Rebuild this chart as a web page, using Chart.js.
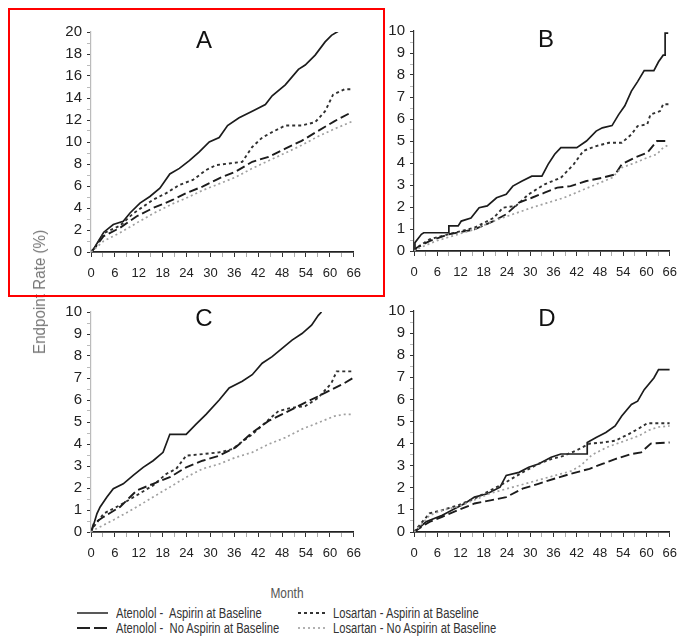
<!DOCTYPE html>
<html lang="en">
<head>
<meta charset="UTF-8">
<title>Endpoint rate by aspirin use</title>
<script src="https://cdn.jsdelivr.net/npm/chart.js"></script>
<style>
  body { margin: 0; background: #fff; }
  #wrap { position: relative; width: 686px; height: 643px; overflow: hidden; font-family: 'Liberation Sans', Arial, sans-serif; }
  canvas { position: absolute; }
  .letter { position: absolute; font-size: 24px; color: #111; transform: translate(-50%, -50%); }
  .ytitle { position: absolute; left: 40px; top: 292px; font-size: 16px; color: #777; white-space: nowrap;
            transform: translate(-50%, -50%) rotate(-90deg) scaleX(0.95); }
  .xtitle { position: absolute; left: 287px; top: 593px; font-size: 14px; color: #555; transform: translate(-50%, -50%) scaleX(0.85); }
  .leg { position: absolute; height: 16px; display: flex; align-items: center; font-size: 14px; color: #333; white-space: pre; }
  .leg svg { margin-right: 7px; }
  .leg span { display: inline-block; transform: scaleX(0.8); transform-origin: left center; }
  #box { position: absolute; left: 8px; top: 8px; width: 377px; height: 289px; box-sizing: border-box; border: 2px solid #f00; }
</style>
</head>
<body>
<div id="wrap">
  <canvas id="chartA" width="330" height="274" style="left:40px; top:18px"></canvas>
  <canvas id="chartB" width="323" height="274" style="left:363px; top:17px"></canvas>
  <canvas id="chartC" width="330" height="274" style="left:40px; top:298px"></canvas>
  <canvas id="chartD" width="323" height="275" style="left:363px; top:297px"></canvas>

  <div class="letter" style="left:204px; top:40px">A</div>
  <div class="letter" style="left:546px; top:39px">B</div>
  <div class="letter" style="left:204px; top:318px">C</div>
  <div class="letter" style="left:547px; top:318px">D</div>

  <div class="ytitle">Endpoint Rate (%)</div>
  <div class="xtitle">Month</div>

  <div class="leg" style="left:77px; top:605px">
    <svg width="32" height="10"><line x1="0" y1="5" x2="31" y2="5" stroke="#222" stroke-width="1.5"/></svg><span>Atenolol -  Aspirin at Baseline</span></div>
  <div class="leg" style="left:77px; top:620px">
    <svg width="32" height="10"><line x1="0" y1="5" x2="31" y2="5" stroke="#222" stroke-width="1.8" stroke-dasharray="13,4"/></svg><span>Atenolol -  No Aspirin at Baseline</span></div>
  <div class="leg" style="left:298px; top:605px">
    <svg width="28" height="10"><line x1="0" y1="5" x2="27" y2="5" stroke="#333" stroke-width="1.8" stroke-dasharray="3,3"/></svg><span>Losartan - Aspirin at Baseline</span></div>
  <div class="leg" style="left:298px; top:620px">
    <svg width="28" height="10"><line x1="0" y1="5" x2="27" y2="5" stroke="#999" stroke-width="1.6" stroke-dasharray="2,3"/></svg><span>Losartan - No Aspirin at Baseline</span></div>

  <div id="box"></div>
</div>
<script>
// Panel A
const aAtenAspMonths = [0, 0.7, 3.2, 5.6, 8.1, 9.8, 12.3, 14.8, 17.3, 19.8, 22.2, 24.7, 27.2, 29.7, 32.2, 34.3, 37.2, 40.5, 43.8, 45.5, 48.8, 52.1, 53.8, 56.3, 58.8, 60.4, 62.5];
const aAtenAsp = [0, 0.3, 1.8, 2.5, 2.8, 3.55, 4.45, 5.05, 5.8, 7.1, 7.6, 8.3, 9.1, 10.0, 10.4, 11.5, 12.2, 12.8, 13.4, 14.2, 15.2, 16.6, 17.0, 17.9, 19.1, 19.7, 20.15];
const aLosAspMonths = [0, 1, 3.2, 7.3, 10.6, 15.6, 18.9, 22.2, 25.6, 28.9, 31.4, 34.7, 38, 40.5, 43, 45.5, 48.8, 52.9, 56.3, 58.8, 60.8, 63.7, 65.8];
const aLosAsp = [0, 0.4, 1.7, 2.4, 3.5, 4.75, 5.35, 6.1, 6.55, 7.45, 7.9, 8.05, 8.2, 9.55, 10.4, 10.9, 11.5, 11.5, 11.8, 12.8, 14.3, 14.8, 14.8];
const aAtenNoMonths = [0, 1, 3.2, 7.3, 11.5, 15.6, 20.6, 23.9, 28, 32.2, 36.3, 40.5, 44.6, 48.8, 52.9, 57, 61.2, 65.4];
const aAtenNo = [0, 0.4, 1.45, 2.2, 3.25, 4.0, 4.75, 5.35, 5.95, 6.7, 7.3, 8.2, 8.65, 9.4, 10.1, 11.0, 11.9, 12.7];
const aLosNoMonths = [0, 1, 3.2, 7.3, 11.5, 15.6, 20.6, 23.9, 28, 32.2, 36.3, 40.5, 44.6, 48.8, 52.9, 57, 61.2, 65.8];
const aLosNo = [0, 0.3, 1.0, 1.75, 2.65, 3.5, 4.4, 4.9, 5.6, 6.2, 6.8, 7.6, 8.3, 9.0, 9.7, 10.5, 11.2, 11.9];

// Panel B
const bAtenAspMonths = [0, 0.25, 1.9, 2.5, 9, 9, 11.4, 12.2, 14.7, 16.8, 18.9, 21.3, 23.8, 25.5, 27.9, 30.4, 33, 34.6, 36.3, 37.9, 42, 44.5, 47, 48.6, 51.1, 52.8, 54.4, 56.1, 57.7, 59.4, 61.9, 63.1, 64.3, 64.8, 64.8, 65.6];
const bAtenAsp = [0, 0.38, 0.76, 0.83, 0.83, 1.14, 1.14, 1.36, 1.5, 1.97, 2.05, 2.42, 2.58, 2.95, 3.18, 3.4, 3.4, 3.94, 4.4, 4.7, 4.7, 5.0, 5.45, 5.6, 5.7, 6.2, 6.6, 7.27, 7.7, 8.2, 8.2, 8.6, 8.9, 8.9, 9.9, 9.9];
const bLosAspMonths = [0, 0.7, 4, 8.9, 15.6, 20.5, 23, 26.3, 29.6, 33.7, 37.9, 41.2, 43.7, 47, 50.3, 53.6, 56.1, 57.7, 60.2, 61, 63.5, 64.3, 66];
const bLosAsp = [0, 0.15, 0.53, 0.76, 1.06, 1.5, 1.97, 2.05, 2.58, 3.03, 3.33, 3.94, 4.55, 4.77, 4.92, 4.92, 5.3, 5.68, 5.76, 6.2, 6.36, 6.67, 6.67];
const bAtenNoMonths = [0, 0.7, 4, 8.9, 15.6, 20.5, 23.8, 27.1, 30.4, 33.7, 37, 40.4, 44.5, 48.6, 51.9, 53.6, 56.9, 60.2, 62.7, 65.6];
const bAtenNo = [0, 0.15, 0.45, 0.76, 0.98, 1.36, 1.67, 2.2, 2.42, 2.65, 2.88, 2.95, 3.18, 3.33, 3.48, 3.94, 4.24, 4.47, 5.0, 5.0];
const bLosNoMonths = [0, 0.7, 5.6, 11.4, 15.6, 20.5, 25.5, 30.4, 34.6, 38.7, 42.9, 47, 51.1, 53.6, 56.9, 60.2, 62.7, 64.3, 66];
const bLosNo = [0, 0.08, 0.45, 0.76, 0.98, 1.36, 1.67, 1.97, 2.2, 2.42, 2.73, 3.03, 3.33, 3.79, 4.0, 4.24, 4.4, 4.7, 4.85];

// Panel C
const cAtenAspMonths = [0, 0.25, 1.5, 2.3, 4, 5.6, 8.1, 10.6, 13.1, 15.6, 18.1, 19.8, 23.9, 26.4, 28.9, 32.2, 34.7, 38, 40.5, 43, 45.5, 48, 50.5, 53, 55.4, 57.1, 57.9];
const cAtenAsp = [0, 0.09, 0.84, 1.14, 1.59, 1.97, 2.19, 2.57, 2.94, 3.24, 3.62, 4.44, 4.44, 4.9, 5.35, 6.0, 6.55, 6.85, 7.15, 7.67, 7.97, 8.35, 8.72, 9.02, 9.4, 9.85, 10.0];
const cLosAspMonths = [0, 0.7, 3.2, 7.3, 11.5, 15.6, 18.9, 21.4, 23.9, 28, 32.2, 35.5, 40.5, 43.8, 47.1, 50.5, 53.8, 57.1, 60.4, 61.7, 65.8];
const cLosAsp = [0, 0.24, 0.84, 1.22, 1.67, 2.12, 2.64, 2.87, 3.47, 3.54, 3.62, 3.77, 4.44, 4.97, 5.5, 5.65, 5.72, 6.1, 6.77, 7.3, 7.3];
const cAtenNoMonths = [0, 0.7, 3.2, 7.3, 11.5, 15.6, 19.8, 23.9, 28, 32.2, 36.3, 40.5, 44.6, 48.8, 52.9, 57.1, 60.4, 63.7, 65.8];
const cAtenNo = [0, 0.39, 0.69, 1.14, 1.89, 2.19, 2.49, 2.94, 3.24, 3.47, 3.84, 4.52, 5.05, 5.42, 5.8, 6.17, 6.47, 6.77, 7.0];
const cLosNoMonths = [0, 0.7, 5.6, 11.5, 15.6, 19.8, 23.9, 28, 32.2, 36.3, 40.5, 44.6, 48.8, 52.9, 57.1, 61.2, 63.7, 65.8];
const cLosNo = [0, 0.09, 0.54, 1.14, 1.59, 2.04, 2.49, 2.87, 3.09, 3.39, 3.62, 3.99, 4.29, 4.67, 4.97, 5.27, 5.35, 5.35];

// Panel D
const dAtenAspMonths = [0, 0.7, 3.1, 7.3, 10.6, 13.1, 15.6, 18.9, 22.2, 23.8, 27.1, 29.6, 32.1, 35.4, 37.9, 44.7, 44.7, 47, 49.5, 51.9, 53.6, 56.1, 57.7, 59.4, 61.9, 63.1, 66];
const dAtenAsp = [0, 0.09, 0.46, 0.76, 1.06, 1.29, 1.58, 1.73, 2.03, 2.56, 2.7, 2.93, 3.08, 3.38, 3.53, 3.53, 4.05, 4.28, 4.5, 4.8, 5.25, 5.77, 5.92, 6.44, 6.97, 7.35, 7.35];
const dLosAspMonths = [0, 0.7, 4, 7.3, 11.4, 15.6, 19.7, 23.8, 28, 32.1, 35.4, 38.7, 42, 45.3, 48.6, 51.9, 55.3, 57.7, 60.2, 66];
const dLosAsp = [0, 0.16, 0.84, 0.99, 1.21, 1.51, 1.88, 2.26, 2.7, 3.08, 3.3, 3.45, 3.7, 4.0, 4.05, 4.13, 4.42, 4.65, 4.92, 4.92];
const dAtenNoMonths = [0, 0.7, 4, 7.3, 11.4, 15.6, 19.7, 23.8, 28, 32.1, 36.2, 40.4, 45.3, 48.6, 51.9, 56.1, 58.6, 61.1, 66];
const dAtenNo = [0, 0.09, 0.46, 0.69, 0.99, 1.29, 1.43, 1.58, 1.96, 2.18, 2.41, 2.63, 2.86, 3.08, 3.3, 3.53, 3.6, 4.0, 4.05];
const dLosNoMonths = [0, 0.7, 4, 7.3, 11.4, 15.6, 19.7, 23.8, 28, 32.1, 36.2, 40.4, 43, 46, 50, 54, 58, 60.5, 63, 66];
const dLosNo = [0, 0.1, 0.75, 0.98, 1.15, 1.45, 1.75, 1.95, 2.15, 2.35, 2.55, 2.75, 3.0, 3.5, 3.85, 4.1, 4.35, 4.6, 4.75, 4.8];

const lineStyles = {
  atenAsp: { borderColor: '#1c1c1c', borderWidth: 1.7, borderDash: [] },
  atenNo: { borderColor: '#1c1c1c', borderWidth: 1.9, borderDash: [9, 4] },
  losAsp: { borderColor: '#303030', borderWidth: 1.9, borderDash: [3, 3] },
  losNo: { borderColor: '#a0a0a0', borderWidth: 1.7, borderDash: [2, 3] }
};

function pts(months, vals) {
  return months.map((m, i) => ({ x: m, y: vals[i] }));
}

function isMult(v, step) {
  const q = v / step;
  return Math.abs(q - Math.round(q)) < 1e-6;
}

function panel(id, series, yMax, yStep, yLabelStep, padRight, yAxisColor) {
  new Chart(document.getElementById(id), {
    type: 'line',
    data: {
      datasets: series.map(s => Object.assign({
        data: pts(s[0], s[1]), pointRadius: 0, tension: 0, fill: false
      }, lineStyles[s[2]]))
    },
    options: {
      responsive: false,
      animation: false,
      layout: { padding: { top: 12, right: padRight, bottom: 0, left: 0 } },
      plugins: { legend: { display: false }, tooltip: { enabled: false } },
      scales: {
        x: {
          type: 'linear', min: 0, max: 66,
          afterFit: s => { s.height = 40; },
          ticks: {
            stepSize: 3, autoSkip: false, maxRotation: 0, padding: 9, color: '#222',
            font: { family: "'Liberation Sans', Arial, sans-serif", size: 13 },
            callback: v => isMult(v, 6) ? v : ''
          },
          grid: {
            drawOnChartArea: false, tickLength: 5,
            color: c => (c.tick && isMult(c.tick.value, 6)) ? '#333' : '#aaa'
          },
          border: { color: '#222', width: 1.8 }
        },
        y: {
          min: 0, max: yMax,
          afterFit: s => { s.width = 51; },
          ticks: {
            stepSize: yStep, autoSkip: false, padding: 5, color: '#222',
            font: { family: "'Liberation Sans', Arial, sans-serif", size: 15 },
            callback: v => isMult(v, yLabelStep) ? v : ''
          },
          grid: {
            drawOnChartArea: false, tickLength: 4,
            color: c => (c.tick && isMult(c.tick.value, yLabelStep)) ? '#333' : '#bbb'
          },
          border: { color: yAxisColor, width: 1.2 }
        }
      }
    }
  });
}

panel('chartA', [
  [aLosNoMonths, aLosNo, 'losNo'],
  [aAtenNoMonths, aAtenNo, 'atenNo'],
  [aLosAspMonths, aLosAsp, 'losAsp'],
  [aAtenAspMonths, aAtenAsp, 'atenAsp']
], 20, 1, 2, 13, '#bbb');

panel('chartB', [
  [bLosNoMonths, bLosNo, 'losNo'],
  [bAtenNoMonths, bAtenNo, 'atenNo'],
  [bLosAspMonths, bLosAsp, 'losAsp'],
  [bAtenAspMonths, bAtenAsp, 'atenAsp']
], 10, 0.5, 1, 6, '#333');

panel('chartC', [
  [cLosNoMonths, cLosNo, 'losNo'],
  [cAtenNoMonths, cAtenNo, 'atenNo'],
  [cLosAspMonths, cLosAsp, 'losAsp'],
  [cAtenAspMonths, cAtenAsp, 'atenAsp']
], 10, 0.5, 1, 13, '#bbb');

panel('chartD', [
  [dLosNoMonths, dLosNo, 'losNo'],
  [dAtenNoMonths, dAtenNo, 'atenNo'],
  [dLosAspMonths, dLosAsp, 'losAsp'],
  [dAtenAspMonths, dAtenAsp, 'atenAsp']
], 10, 0.5, 1, 6, '#333');
</script>
</body>
</html>
